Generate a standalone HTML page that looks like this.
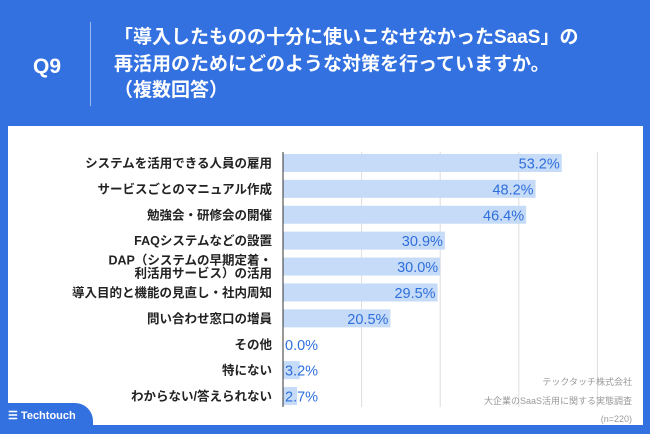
<!DOCTYPE html>
<html><head><meta charset="utf-8"><style>
body{margin:0;width:650px;height:434px;overflow:hidden;background:#3370e0;font-family:"Liberation Sans","Noto Sans CJK JP",sans-serif;position:relative}
.abs{position:absolute}
</style></head><body>
<div class="abs" style="left:33px;top:55px;color:#fff;font-size:21px;font-weight:bold">Q9</div>
<div class="abs" style="left:90px;top:22px;width:1px;height:84px;background:#9bb9f0"></div>
<div class="abs" style="left:114px;top:25px;color:#fff;font-size:19px;font-weight:bold;line-height:26.5px;white-space:nowrap">「導入したものの十分に使いこなせなかったSaaS」の<br>再活用のためにどのような対策を行っていますか。<br>（複数回答）</div>
<div class="abs" style="left:8px;top:126px;width:635px;height:299px;background:#fff"></div>
<svg class="abs" style="left:0;top:0" width="650" height="434" id="chart"></svg>
<div class="abs" style="left:0;top:403px;width:93px;height:31px;background:#3370e0;border-top-right-radius:18px"></div>
<div class="abs" style="left:8px;top:409px;color:#fff;font-size:11px;font-weight:bold">☰ Techtouch</div>
<div class="abs" style="right:18px;top:373px;color:#999;font-size:9px;line-height:18.5px;text-align:right">テックタッチ株式会社<br>大企業のSaaS活用に関する実態調査<br>(n=220)</div>
<script>
const categories=["システムを活用できる人員の雇用","サービスごとのマニュアル作成","勉強会・研修会の開催","FAQシステムなどの設置","DAP（システムの早期定着・\n利活用サービス）の活用","導入目的と機能の見直し・社内周知","問い合わせ窓口の増員","その他","特にない","わからない/答えられない"];
const values=[53.2,48.2,46.4,30.9,30.0,29.5,20.5,0.0,3.2,2.7];
const gridTicks=[15,30,45,60];
const svg=document.getElementById('chart');
const NS='http://www.w3.org/2000/svg';
const x0=283,k=5.24,y0=150,step=25.9,bh=18;
const xs=v=>x0+v*k;
function mk(t,a){const e=document.createElementNS(NS,t);for(const n in a)e.setAttribute(n,a[n]);svg.appendChild(e);return e;}
gridTicks.forEach((t,i)=>{const l=mk('line',{x1:xs(t),x2:xs(t),y1:152,y2:407,stroke:'#ddd','stroke-width':1});

});
categories.forEach((c,i)=>{const cy=y0+step*(i+0.5);
const r=mk('rect',{x:x0,y:cy-bh/2,width:values[i]*k,height:bh,fill:'#c5dbf7'});


const lines=c.split('\n');
lines.forEach((ln,j)=>{const t=mk('text',{x:272,y:cy+4.5+(j-(lines.length-1)/2)*13,'text-anchor':'end','font-size':12.5,'font-weight':'bold',fill:'#222'});t.textContent=ln;

});
const tx=Math.max(xs(values[i])-2,x0+2);const anchor=values[i]*k>40?'end':'start';
const v=mk('text',{x:anchor==='end'?tx:x0+2,y:cy+5.5,'text-anchor':anchor,'font-size':14.5,fill:'#2f6fdc'});v.textContent=values[i].toFixed(1)+'%';

});
const ax=mk('line',{x1:x0,x2:x0,y1:152,y2:407,stroke:'#333','stroke-width':1});


</script>
</body></html>
